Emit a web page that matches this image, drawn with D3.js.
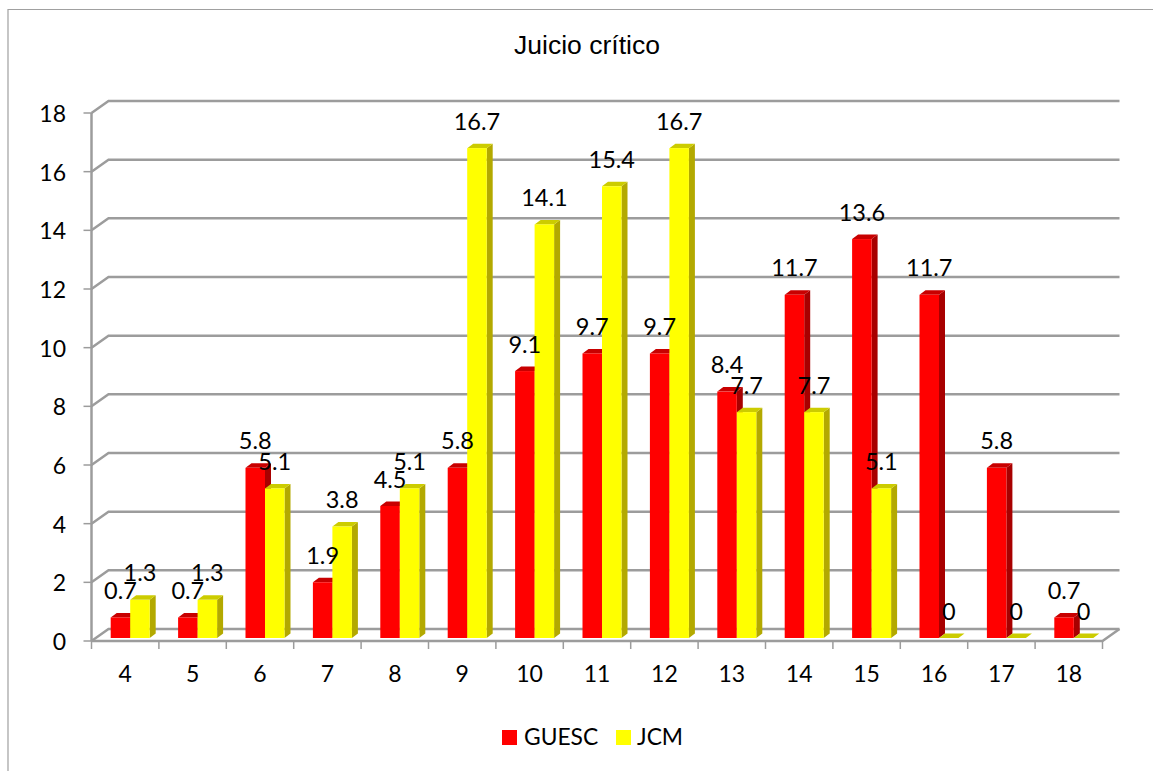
<!DOCTYPE html>
<html><head><meta charset="utf-8">
<script src="https://cdn.jsdelivr.net/npm/d3@7"></script>
<style>html,body{margin:0;padding:0;background:#fff}svg{display:block}</style>
</head><body>
<svg id="c" width="1153" height="771"></svg>
<script>
const categories=["4","5","6","7","8","9","10","11","12","13","14","15","16","17","18"];
const guesc=[0.7,0.7,5.8,1.9,4.5,5.8,9.1,9.7,9.7,8.4,11.7,13.6,11.7,5.8,0.7];
const jcm=[1.3,1.3,5.1,3.8,5.1,16.7,14.1,15.4,16.7,7.7,7.7,5.1,0,0,0];
const seriesNames=["GUESC","JCM"];
const yTicks=[0,2,4,6,8,10,12,14,16,18];
const title="Juicio crítico";

const svg=d3.select("#c");
const FONT="Lato, 'Open Sans', sans-serif";
const GRID="#9c9c9c";
const colors={GUESC:{f:"#ff0000",t:"#c80000",s:"#a80000"},JCM:{f:"#ffff00",t:"#cccc00",s:"#b3a900"}};
const dx=17,dy=12;
const x0=91.5,x1=1102.5,yz=641,yt=113;
const x=d3.scaleBand().domain(categories).range([x0,x1]);
const y=d3.scaleLinear().domain([0,18]).range([yz,yt]);
const barH=d3.scaleLinear().domain([0,18]).range([0,yz-yt]);

// chart frame
svg.append("path").attr("d","M8,771V9.5H1153").attr("fill","none").attr("stroke","#a0a0a0").attr("stroke-width",1.2);

// title
svg.append("text").attr("x",587).attr("y",54).attr("text-anchor","middle")
  .attr("font-family","'Liberation Sans',Arial,sans-serif").attr("font-size",26.5).attr("fill","#000").text(title);

// gridlines with side-wall slants
const g=svg.append("g").attr("fill","none").attr("stroke",GRID).attr("stroke-width",2.5);
yTicks.forEach(t=>{
  g.append("path").attr("d",`M${x0},${y(t)}L${x0+dx},${y(t)-dy}H${x1+dx}`);
});
g.append("path").attr("d",`M${x0},${yz}H${x1}L${x1+dx},${yz-dy}`);
g.append("path").attr("d",`M${x0},${yz}V${yt}`);

// ticks
const tk=svg.append("g").attr("stroke",GRID).attr("stroke-width",1.5);
yTicks.forEach(t=>tk.append("line").attr("x1",x0-8).attr("x2",x0).attr("y1",y(t)).attr("y2",y(t)));
categories.forEach(c=>tk.append("line").attr("x1",x(c)).attr("x2",x(c)).attr("y1",yz).attr("y2",yz+8));
tk.append("line").attr("x1",x1).attr("x2",x1).attr("y1",yz).attr("y2",yz+8);

// tick labels
const tl=svg.append("g").attr("font-family",FONT).attr("font-size",23).attr("fill","#000");
yTicks.forEach(t=>tl.append("text").attr("x",66).attr("y",y(t)+9).attr("text-anchor","end").text(t));
categories.forEach(c=>tl.append("text").attr("x",x(c)+x.bandwidth()/2).attr("y",682).attr("text-anchor","middle").text(c));

// bars
const bw=19.5,sx=6,sy=4.5,base=638,shift=5;
const bars=svg.append("g");
function bar(cat,v,name,offset){
  const c=colors[name];
  const left=x(cat)+x.bandwidth()/2+offset, right=left+bw, h=barH(v), top=base-h;
  const grp=bars.append("g");
  grp.append("path").attr("fill",c.s).attr("d",`M${right},${base}V${top}L${right+sx},${top-sy}V${base-sy}Z`);
  grp.append("path").attr("fill",c.t).attr("d",`M${left},${top}L${left+sx},${top-sy}H${right+sx}L${right},${top}Z`);
  grp.append("rect").attr("x",left).attr("y",top).attr("width",bw).attr("height",h).attr("fill",c.f);
}
categories.forEach((c,i)=>{bar(c,guesc[i],"GUESC",shift-bw);bar(c,jcm[i],"JCM",shift);});

// data labels
const dl=svg.append("g").attr("font-family",FONT).attr("font-size",23.5).attr("fill","#000").attr("text-anchor","middle");
categories.forEach((c,i)=>{
  const m=x(c)+x.bandwidth()/2+shift;
  dl.append("text").attr("x",m-bw/2).attr("y",base-barH(guesc[i])-18.5).text(guesc[i]);
  dl.append("text").attr("x",m+bw/2).attr("y",base-barH(jcm[i])-18.5).text(jcm[i]);
});

// legend
const lg=svg.append("g").attr("font-family",FONT).attr("font-size",22.8).attr("fill","#000");
[[502,524],[616,637]].forEach(([sxp,tx],i)=>{
  lg.append("rect").attr("x",sxp).attr("y",730).attr("width",15).attr("height",15).attr("fill",colors[seriesNames[i]].f);
  lg.append("text").attr("x",tx).attr("y",745).text(seriesNames[i]);
});
</script>
</body></html>
